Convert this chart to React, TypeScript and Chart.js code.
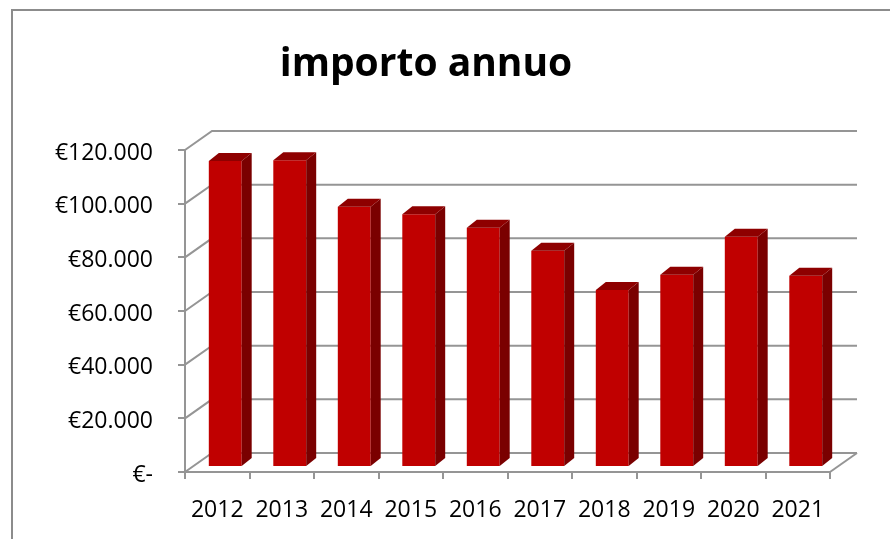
import React, { useEffect, useRef } from "react";
import { Chart, registerables } from "chart.js";

Chart.register(...registerables);

const years = ["2012", "2013", "2014", "2015", "2016", "2017", "2018", "2019", "2020", "2021"];
const importi = [114000, 114300, 97000, 94200, 89200, 80600, 66000, 71600, 85800, 71300];
const chartTitle = "importo annuo";
const yMax = 120000;
const yStep = 20000;

const FONT = "'Open Sans', sans-serif";
const GRID = "#959595";
const WALL_DX = 27;
const WALL_DY = -19;
const BAR_DX = 8;
const BAR_DY = -5;
const SIDE_DX = 10;
const SIDE_DY = -8;

function formatEuro(v: number): string {
  if (v === 0) return "€-";
  const s = Math.round(v).toString();
  return "€" + s.replace(/\B(?=(\d{3})+(?!\d))/g, ".");
}

const threeD = {
  id: "threeD",
  beforeDraw(chart: any) {
    const ctx = chart.ctx;
    ctx.save();
    ctx.fillStyle = "#ffffff";
    ctx.fillRect(0, 0, chart.width, chart.height);
    ctx.strokeStyle = "#8c8c8c";
    ctx.lineWidth = 2;
    ctx.strokeRect(12, 10, 2000, 2000);
    // title
    ctx.fillStyle = "#000000";
    ctx.font = "bold 39px " + FONT;
    ctx.textAlign = "center";
    ctx.textBaseline = "alphabetic";
    ctx.fillText(chartTitle, 426, 76);
    ctx.restore();
  },
  beforeDatasetsDraw(chart: any) {
    const ctx = chart.ctx;
    const y = chart.scales.y;
    const area = chart.chartArea;
    ctx.save();
    ctx.strokeStyle = GRID;
    ctx.lineWidth = 2;
    ctx.lineCap = "butt";
    y.ticks.forEach((t: any) => {
      const yf = y.getPixelForValue(t.value);
      ctx.beginPath();
      ctx.moveTo(area.left, yf);
      ctx.lineTo(area.left + WALL_DX, yf + WALL_DY);
      ctx.lineTo(area.right + WALL_DX, yf + WALL_DY);
      ctx.stroke();
    });
    const yb = y.getPixelForValue(0);
    ctx.beginPath();
    ctx.moveTo(area.right, yb);
    ctx.lineTo(area.right + WALL_DX, yb + WALL_DY);
    ctx.stroke();
    ctx.restore();
    ctx.save();
    ctx.translate(BAR_DX, BAR_DY);
  },
  afterDatasetsDraw(chart: any) {
    const ctx = chart.ctx;
    const meta = chart.getDatasetMeta(0);
    meta.data.forEach((bar: any) => {
      const p = bar.getProps(["x", "y", "base", "width"], true);
      const l = p.x - p.width / 2;
      const r = p.x + p.width / 2;
      const top = Math.min(p.y, p.base);
      const bot = Math.max(p.y, p.base);
      ctx.fillStyle = "#7a0000";
      ctx.beginPath();
      ctx.moveTo(r, top);
      ctx.lineTo(r + SIDE_DX, top + SIDE_DY);
      ctx.lineTo(r + SIDE_DX, bot + SIDE_DY);
      ctx.lineTo(r, bot);
      ctx.closePath();
      ctx.fill();
      ctx.fillStyle = "#8e0000";
      ctx.beginPath();
      ctx.moveTo(l, top);
      ctx.lineTo(l + SIDE_DX, top + SIDE_DY);
      ctx.lineTo(r + SIDE_DX, top + SIDE_DY);
      ctx.lineTo(r, top);
      ctx.closePath();
      ctx.fill();
    });
    ctx.restore();
  },
};

export default function App() {
  const ref = useRef<HTMLCanvasElement | null>(null);
  useEffect(() => {
    if (!ref.current) return;
    const chart = new Chart(ref.current, {
      type: "bar",
      data: {
        labels: years,
        datasets: [
          {
            label: chartTitle,
            data: importi,
            backgroundColor: "#c00000",
            borderWidth: 0,
            barPercentage: 0.51,
            categoryPercentage: 1,
          },
        ],
      },
      options: {
        animation: false,
        responsive: false,
        maintainAspectRatio: false,
        layout: { padding: { top: 150, right: 60, bottom: 0, left: 0 } },
        plugins: {
          legend: { display: false },
          title: { display: false },
          tooltip: { enabled: false },
        },
        scales: {
          x: {
            afterFit: (s: any) => {
              s.height = 67;
            },
            grid: {
              drawOnChartArea: false,
              drawTicks: true,
              tickLength: 7,
              color: GRID,
              lineWidth: 2,
              offset: true,
            },
            border: { display: true, color: GRID, width: 2 },
            ticks: {
              color: "#000000",
              font: { family: FONT, size: 23 },
              padding: 18,
              maxRotation: 0,
            },
          },
          y: {
            min: 0,
            max: yMax,
            afterFit: (s: any) => {
              s.width = 185;
            },
            grid: {
              drawOnChartArea: false,
              drawTicks: true,
              tickLength: 7,
              color: GRID,
              lineWidth: 2,
            },
            border: { display: true, color: GRID, width: 2 },
            ticks: {
              stepSize: yStep,
              color: "#000000",
              font: { family: FONT, size: 23 },
              padding: 25,
              labelOffset: 3,
              callback: (v: any) => formatEuro(Number(v)),
            },
          },
        },
      },
      plugins: [threeD],
    });
    return () => chart.destroy();
  }, []);
  return (
    <div style={{ position: "fixed", left: 0, top: 0, width: 890, height: 539 }}>
      <canvas ref={ref} width={890} height={539} style={{ width: 890, height: 539, display: "block" }} />
    </div>
  );
}
